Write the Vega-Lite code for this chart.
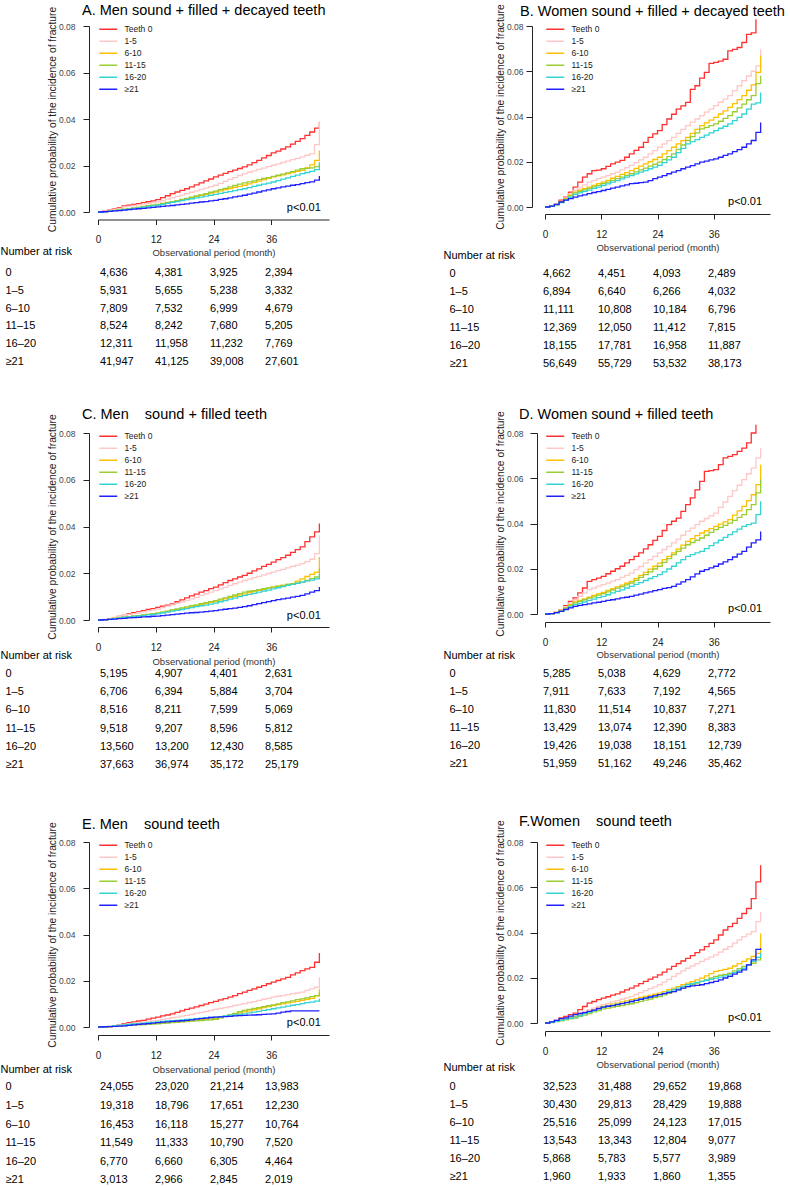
{
"$schema": "https://vega.github.io/schema/vega-lite/v6.json",
"background": "white",
"padding": {"left": 0, "top": 3, "right": 0, "bottom": 0},
"autosize": {"type": "pad"},
"config": {
  "font": "Liberation Sans",
  "view": {"stroke": null},
  "axis": {"grid": false, "domainColor": "#222", "tickColor": "#222", "titleFontWeight": "normal"},
  "title": {"anchor": "start", "frame": "group", "baseline": "alphabetic", "fontSize": 14.5, "fontWeight": "normal", "color": "black"},
  "legend": {"padding": 0, "symbolType": "M-1,0H5", "symbolSize": 36, "symbolStrokeWidth": 1.5, "labelFontSize": 8.5, "labelOffset": 18, "rowPadding": 3, "labelColor": "#222"}
},
"datasets": {
"A": [
{"m":0,"Teeth 0":0,"1-5":0,"6-10":0,"11-15":0,"16-20":0,"≥21":0},
{"m":1,"Teeth 0":0.0004,"1-5":0.0003,"6-10":0.0002,"11-15":0.0002,"16-20":0.0002,"≥21":0.0001},
{"m":2,"Teeth 0":0.0008,"1-5":0.0007,"6-10":0.0004,"11-15":0.0004,"16-20":0.0004,"≥21":0.0003},
{"m":3,"Teeth 0":0.0013,"1-5":0.0011,"6-10":0.0007,"11-15":0.0006,"16-20":0.0006,"≥21":0.0005},
{"m":4,"Teeth 0":0.0019,"1-5":0.0016,"6-10":0.0009,"11-15":0.0009,"16-20":0.0008,"≥21":0.0006},
{"m":5,"Teeth 0":0.0026,"1-5":0.0022,"6-10":0.0012,"11-15":0.0011,"16-20":0.0010,"≥21":0.0008},
{"m":6,"Teeth 0":0.0029,"1-5":0.0025,"6-10":0.0014,"11-15":0.0014,"16-20":0.0012,"≥21":0.0010},
{"m":7,"Teeth 0":0.0033,"1-5":0.0028,"6-10":0.0017,"11-15":0.0017,"16-20":0.0015,"≥21":0.0012},
{"m":8,"Teeth 0":0.0036,"1-5":0.0031,"6-10":0.0020,"11-15":0.0020,"16-20":0.0018,"≥21":0.0014},
{"m":9,"Teeth 0":0.0040,"1-5":0.0034,"6-10":0.0024,"11-15":0.0023,"16-20":0.0021,"≥21":0.0016},
{"m":10,"Teeth 0":0.0044,"1-5":0.0037,"6-10":0.0027,"11-15":0.0026,"16-20":0.0024,"≥21":0.0018},
{"m":11,"Teeth 0":0.0048,"1-5":0.0040,"6-10":0.0030,"11-15":0.0029,"16-20":0.0026,"≥21":0.0020},
{"m":12,"Teeth 0":0.0053,"1-5":0.0043,"6-10":0.0033,"11-15":0.0032,"16-20":0.0029,"≥21":0.0022},
{"m":13,"Teeth 0":0.0062,"1-5":0.0049,"6-10":0.0037,"11-15":0.0036,"16-20":0.0033,"≥21":0.0024},
{"m":14,"Teeth 0":0.0070,"1-5":0.0055,"6-10":0.0041,"11-15":0.0040,"16-20":0.0037,"≥21":0.0026},
{"m":15,"Teeth 0":0.0079,"1-5":0.0061,"6-10":0.0045,"11-15":0.0044,"16-20":0.0041,"≥21":0.0028},
{"m":16,"Teeth 0":0.0086,"1-5":0.0067,"6-10":0.0049,"11-15":0.0049,"16-20":0.0045,"≥21":0.0031},
{"m":17,"Teeth 0":0.0093,"1-5":0.0073,"6-10":0.0053,"11-15":0.0054,"16-20":0.0049,"≥21":0.0033},
{"m":18,"Teeth 0":0.0100,"1-5":0.0079,"6-10":0.0057,"11-15":0.0059,"16-20":0.0053,"≥21":0.0035},
{"m":19,"Teeth 0":0.0108,"1-5":0.0085,"6-10":0.0062,"11-15":0.0064,"16-20":0.0057,"≥21":0.0038},
{"m":20,"Teeth 0":0.0117,"1-5":0.0091,"6-10":0.0067,"11-15":0.0069,"16-20":0.0061,"≥21":0.0040},
{"m":21,"Teeth 0":0.0125,"1-5":0.0097,"6-10":0.0072,"11-15":0.0074,"16-20":0.0064,"≥21":0.0043},
{"m":22,"Teeth 0":0.0134,"1-5":0.0103,"6-10":0.0076,"11-15":0.0079,"16-20":0.0068,"≥21":0.0045},
{"m":23,"Teeth 0":0.0142,"1-5":0.0109,"6-10":0.0081,"11-15":0.0085,"16-20":0.0072,"≥21":0.0048},
{"m":24,"Teeth 0":0.0151,"1-5":0.0115,"6-10":0.0086,"11-15":0.0090,"16-20":0.0076,"≥21":0.0050},
{"m":25,"Teeth 0":0.0159,"1-5":0.0123,"6-10":0.0091,"11-15":0.0096,"16-20":0.0080,"≥21":0.0054},
{"m":26,"Teeth 0":0.0166,"1-5":0.0132,"6-10":0.0096,"11-15":0.0102,"16-20":0.0084,"≥21":0.0057},
{"m":27,"Teeth 0":0.0174,"1-5":0.0140,"6-10":0.0101,"11-15":0.0108,"16-20":0.0088,"≥21":0.0061},
{"m":28,"Teeth 0":0.0180,"1-5":0.0148,"6-10":0.0106,"11-15":0.0114,"16-20":0.0092,"≥21":0.0065},
{"m":29,"Teeth 0":0.0187,"1-5":0.0157,"6-10":0.0110,"11-15":0.0120,"16-20":0.0096,"≥21":0.0068},
{"m":30,"Teeth 0":0.0194,"1-5":0.0165,"6-10":0.0115,"11-15":0.0125,"16-20":0.0100,"≥21":0.0072},
{"m":31,"Teeth 0":0.0203,"1-5":0.0171,"6-10":0.0121,"11-15":0.0130,"16-20":0.0105,"≥21":0.0077},
{"m":32,"Teeth 0":0.0212,"1-5":0.0177,"6-10":0.0127,"11-15":0.0134,"16-20":0.0110,"≥21":0.0081},
{"m":33,"Teeth 0":0.0222,"1-5":0.0183,"6-10":0.0133,"11-15":0.0139,"16-20":0.0115,"≥21":0.0086},
{"m":34,"Teeth 0":0.0233,"1-5":0.0189,"6-10":0.0139,"11-15":0.0144,"16-20":0.0120,"≥21":0.0091},
{"m":35,"Teeth 0":0.0243,"1-5":0.0195,"6-10":0.0145,"11-15":0.0148,"16-20":0.0124,"≥21":0.0095},
{"m":36,"Teeth 0":0.0254,"1-5":0.0201,"6-10":0.0151,"11-15":0.0153,"16-20":0.0129,"≥21":0.0100},
{"m":37,"Teeth 0":0.0262,"1-5":0.0207,"6-10":0.0155,"11-15":0.0158,"16-20":0.0135,"≥21":0.0104},
{"m":38,"Teeth 0":0.0271,"1-5":0.0213,"6-10":0.0160,"11-15":0.0163,"16-20":0.0141,"≥21":0.0108},
{"m":39,"Teeth 0":0.0280,"1-5":0.0219,"6-10":0.0165,"11-15":0.0168,"16-20":0.0147,"≥21":0.0111},
{"m":40,"Teeth 0":0.0292,"1-5":0.0225,"6-10":0.0170,"11-15":0.0174,"16-20":0.0153,"≥21":0.0115},
{"m":41,"Teeth 0":0.0304,"1-5":0.0231,"6-10":0.0175,"11-15":0.0180,"16-20":0.0159,"≥21":0.0118},
{"m":42,"Teeth 0":0.0316,"1-5":0.0237,"6-10":0.0179,"11-15":0.0186,"16-20":0.0165,"≥21":0.0122},
{"m":43,"Teeth 0":0.0330,"1-5":0.0244,"6-10":0.0190,"11-15":0.0188,"16-20":0.0170,"≥21":0.0126},
{"m":44,"Teeth 0":0.0344,"1-5":0.0251,"6-10":0.0203,"11-15":0.0190,"16-20":0.0175,"≥21":0.0130},
{"m":45,"Teeth 0":0.0361,"1-5":0.0290,"6-10":0.0222,"11-15":0.0195,"16-20":0.0182,"≥21":0.0137},
{"m":46,"Teeth 0":0.0384,"1-5":0.0390,"6-10":0.0265,"11-15":0.0215,"16-20":0.0205,"≥21":0.0155}
],
"B": [
{"m":0,"Teeth 0":0,"1-5":0,"6-10":0,"11-15":0,"16-20":0,"≥21":0},
{"m":1,"Teeth 0":0.0004,"1-5":0.0004,"6-10":0.0004,"11-15":0.0004,"16-20":0.0003,"≥21":0.0004},
{"m":2,"Teeth 0":0.0012,"1-5":0.0012,"6-10":0.0011,"11-15":0.0010,"16-20":0.0009,"≥21":0.0012},
{"m":3,"Teeth 0":0.0030,"1-5":0.0025,"6-10":0.0023,"11-15":0.0021,"16-20":0.0019,"≥21":0.0022},
{"m":4,"Teeth 0":0.0044,"1-5":0.0040,"6-10":0.0037,"11-15":0.0034,"16-20":0.0031,"≥21":0.0030},
{"m":5,"Teeth 0":0.0066,"1-5":0.0058,"6-10":0.0052,"11-15":0.0048,"16-20":0.0044,"≥21":0.0037},
{"m":6,"Teeth 0":0.0088,"1-5":0.0073,"6-10":0.0066,"11-15":0.0062,"16-20":0.0056,"≥21":0.0044},
{"m":7,"Teeth 0":0.0110,"1-5":0.0086,"6-10":0.0074,"11-15":0.0069,"16-20":0.0062,"≥21":0.0049},
{"m":8,"Teeth 0":0.0132,"1-5":0.0098,"6-10":0.0081,"11-15":0.0076,"16-20":0.0069,"≥21":0.0054},
{"m":9,"Teeth 0":0.0147,"1-5":0.0110,"6-10":0.0088,"11-15":0.0082,"16-20":0.0075,"≥21":0.0059},
{"m":10,"Teeth 0":0.0161,"1-5":0.0117,"6-10":0.0095,"11-15":0.0089,"16-20":0.0082,"≥21":0.0064},
{"m":11,"Teeth 0":0.0163,"1-5":0.0125,"6-10":0.0103,"11-15":0.0096,"16-20":0.0088,"≥21":0.0068},
{"m":12,"Teeth 0":0.0169,"1-5":0.0132,"6-10":0.0110,"11-15":0.0103,"16-20":0.0095,"≥21":0.0073},
{"m":13,"Teeth 0":0.0180,"1-5":0.0139,"6-10":0.0118,"11-15":0.0110,"16-20":0.0102,"≥21":0.0078},
{"m":14,"Teeth 0":0.0191,"1-5":0.0147,"6-10":0.0127,"11-15":0.0118,"16-20":0.0110,"≥21":0.0083},
{"m":15,"Teeth 0":0.0198,"1-5":0.0154,"6-10":0.0135,"11-15":0.0125,"16-20":0.0117,"≥21":0.0088},
{"m":16,"Teeth 0":0.0206,"1-5":0.0164,"6-10":0.0144,"11-15":0.0132,"16-20":0.0124,"≥21":0.0093},
{"m":17,"Teeth 0":0.0220,"1-5":0.0174,"6-10":0.0152,"11-15":0.0140,"16-20":0.0132,"≥21":0.0098},
{"m":18,"Teeth 0":0.0235,"1-5":0.0184,"6-10":0.0161,"11-15":0.0147,"16-20":0.0139,"≥21":0.0103},
{"m":19,"Teeth 0":0.0250,"1-5":0.0196,"6-10":0.0171,"11-15":0.0155,"16-20":0.0146,"≥21":0.0105},
{"m":20,"Teeth 0":0.0264,"1-5":0.0208,"6-10":0.0181,"11-15":0.0164,"16-20":0.0154,"≥21":0.0108},
{"m":21,"Teeth 0":0.0286,"1-5":0.0220,"6-10":0.0191,"11-15":0.0172,"16-20":0.0161,"≥21":0.0110},
{"m":22,"Teeth 0":0.0308,"1-5":0.0235,"6-10":0.0200,"11-15":0.0181,"16-20":0.0169,"≥21":0.0117},
{"m":23,"Teeth 0":0.0323,"1-5":0.0249,"6-10":0.0210,"11-15":0.0189,"16-20":0.0176,"≥21":0.0125},
{"m":24,"Teeth 0":0.0338,"1-5":0.0264,"6-10":0.0220,"11-15":0.0198,"16-20":0.0184,"≥21":0.0132},
{"m":25,"Teeth 0":0.0364,"1-5":0.0279,"6-10":0.0235,"11-15":0.0210,"16-20":0.0196,"≥21":0.0139},
{"m":26,"Teeth 0":0.0389,"1-5":0.0293,"6-10":0.0249,"11-15":0.0223,"16-20":0.0208,"≥21":0.0147},
{"m":27,"Teeth 0":0.0410,"1-5":0.0308,"6-10":0.0264,"11-15":0.0235,"16-20":0.0220,"≥21":0.0154},
{"m":28,"Teeth 0":0.0433,"1-5":0.0325,"6-10":0.0279,"11-15":0.0255,"16-20":0.0240,"≥21":0.0161},
{"m":29,"Teeth 0":0.0447,"1-5":0.0343,"6-10":0.0293,"11-15":0.0274,"16-20":0.0259,"≥21":0.0169},
{"m":30,"Teeth 0":0.0462,"1-5":0.0360,"6-10":0.0308,"11-15":0.0294,"16-20":0.0279,"≥21":0.0176},
{"m":31,"Teeth 0":0.0520,"1-5":0.0375,"6-10":0.0325,"11-15":0.0311,"16-20":0.0289,"≥21":0.0183},
{"m":32,"Teeth 0":0.0536,"1-5":0.0389,"6-10":0.0343,"11-15":0.0328,"16-20":0.0298,"≥21":0.0191},
{"m":33,"Teeth 0":0.0570,"1-5":0.0404,"6-10":0.0360,"11-15":0.0345,"16-20":0.0308,"≥21":0.0198},
{"m":34,"Teeth 0":0.0595,"1-5":0.0419,"6-10":0.0372,"11-15":0.0352,"16-20":0.0318,"≥21":0.0203},
{"m":35,"Teeth 0":0.0635,"1-5":0.0433,"6-10":0.0384,"11-15":0.0360,"16-20":0.0328,"≥21":0.0208},
{"m":36,"Teeth 0":0.0639,"1-5":0.0448,"6-10":0.0396,"11-15":0.0367,"16-20":0.0338,"≥21":0.0213},
{"m":37,"Teeth 0":0.0645,"1-5":0.0463,"6-10":0.0411,"11-15":0.0379,"16-20":0.0348,"≥21":0.0220},
{"m":38,"Teeth 0":0.0653,"1-5":0.0477,"6-10":0.0425,"11-15":0.0392,"16-20":0.0357,"≥21":0.0228},
{"m":39,"Teeth 0":0.0690,"1-5":0.0492,"6-10":0.0440,"11-15":0.0404,"16-20":0.0367,"≥21":0.0235},
{"m":40,"Teeth 0":0.0697,"1-5":0.0514,"6-10":0.0457,"11-15":0.0421,"16-20":0.0382,"≥21":0.0245},
{"m":41,"Teeth 0":0.0705,"1-5":0.0536,"6-10":0.0475,"11-15":0.0438,"16-20":0.0396,"≥21":0.0254},
{"m":42,"Teeth 0":0.0727,"1-5":0.0558,"6-10":0.0492,"11-15":0.0455,"16-20":0.0411,"≥21":0.0264},
{"m":43,"Teeth 0":0.0763,"1-5":0.0579,"6-10":0.0516,"11-15":0.0474,"16-20":0.0433,"≥21":0.0279},
{"m":44,"Teeth 0":0.0770,"1-5":0.0600,"6-10":0.0540,"11-15":0.0492,"16-20":0.0455,"≥21":0.0294},
{"m":45,"Teeth 0":0.0830,"1-5":0.0624,"6-10":0.0595,"11-15":0.0545,"16-20":0.0460,"≥21":0.0330},
{"m":46,"Teeth 0":null,"1-5":0.0697,"6-10":0.0670,"11-15":0.0580,"16-20":0.0506,"≥21":0.0374}
],
"C": [
{"m":0,"Teeth 0":0,"1-5":0,"6-10":0,"11-15":0,"16-20":0,"≥21":0},
{"m":1,"Teeth 0":0.0002,"1-5":0.0003,"6-10":0.0002,"11-15":0.0002,"16-20":0.0002,"≥21":0.0001},
{"m":2,"Teeth 0":0.0005,"1-5":0.0007,"6-10":0.0005,"11-15":0.0004,"16-20":0.0004,"≥21":0.0003},
{"m":3,"Teeth 0":0.0009,"1-5":0.0011,"6-10":0.0007,"11-15":0.0007,"16-20":0.0006,"≥21":0.0004},
{"m":4,"Teeth 0":0.0015,"1-5":0.0015,"6-10":0.0009,"11-15":0.0009,"16-20":0.0009,"≥21":0.0006},
{"m":5,"Teeth 0":0.0020,"1-5":0.0019,"6-10":0.0012,"11-15":0.0012,"16-20":0.0011,"≥21":0.0007},
{"m":6,"Teeth 0":0.0026,"1-5":0.0023,"6-10":0.0014,"11-15":0.0014,"16-20":0.0013,"≥21":0.0009},
{"m":7,"Teeth 0":0.0031,"1-5":0.0027,"6-10":0.0016,"11-15":0.0017,"16-20":0.0015,"≥21":0.0010},
{"m":8,"Teeth 0":0.0035,"1-5":0.0031,"6-10":0.0019,"11-15":0.0019,"16-20":0.0017,"≥21":0.0011},
{"m":9,"Teeth 0":0.0040,"1-5":0.0035,"6-10":0.0021,"11-15":0.0022,"16-20":0.0019,"≥21":0.0013},
{"m":10,"Teeth 0":0.0045,"1-5":0.0039,"6-10":0.0024,"11-15":0.0024,"16-20":0.0022,"≥21":0.0014},
{"m":11,"Teeth 0":0.0049,"1-5":0.0043,"6-10":0.0026,"11-15":0.0027,"16-20":0.0024,"≥21":0.0016},
{"m":12,"Teeth 0":0.0054,"1-5":0.0047,"6-10":0.0029,"11-15":0.0029,"16-20":0.0026,"≥21":0.0017},
{"m":13,"Teeth 0":0.0059,"1-5":0.0053,"6-10":0.0033,"11-15":0.0034,"16-20":0.0030,"≥21":0.0019},
{"m":14,"Teeth 0":0.0064,"1-5":0.0059,"6-10":0.0037,"11-15":0.0038,"16-20":0.0034,"≥21":0.0021},
{"m":15,"Teeth 0":0.0069,"1-5":0.0065,"6-10":0.0041,"11-15":0.0043,"16-20":0.0038,"≥21":0.0023},
{"m":16,"Teeth 0":0.0078,"1-5":0.0071,"6-10":0.0044,"11-15":0.0047,"16-20":0.0041,"≥21":0.0025},
{"m":17,"Teeth 0":0.0086,"1-5":0.0077,"6-10":0.0048,"11-15":0.0052,"16-20":0.0045,"≥21":0.0027},
{"m":18,"Teeth 0":0.0095,"1-5":0.0083,"6-10":0.0052,"11-15":0.0056,"16-20":0.0049,"≥21":0.0029},
{"m":19,"Teeth 0":0.0103,"1-5":0.0090,"6-10":0.0056,"11-15":0.0061,"16-20":0.0053,"≥21":0.0031},
{"m":20,"Teeth 0":0.0111,"1-5":0.0097,"6-10":0.0061,"11-15":0.0065,"16-20":0.0057,"≥21":0.0032},
{"m":21,"Teeth 0":0.0119,"1-5":0.0105,"6-10":0.0066,"11-15":0.0070,"16-20":0.0061,"≥21":0.0034},
{"m":22,"Teeth 0":0.0126,"1-5":0.0112,"6-10":0.0070,"11-15":0.0074,"16-20":0.0064,"≥21":0.0036},
{"m":23,"Teeth 0":0.0134,"1-5":0.0119,"6-10":0.0075,"11-15":0.0079,"16-20":0.0068,"≥21":0.0038},
{"m":24,"Teeth 0":0.0141,"1-5":0.0126,"6-10":0.0079,"11-15":0.0083,"16-20":0.0072,"≥21":0.0040},
{"m":25,"Teeth 0":0.0150,"1-5":0.0133,"6-10":0.0085,"11-15":0.0089,"16-20":0.0078,"≥21":0.0043},
{"m":26,"Teeth 0":0.0160,"1-5":0.0140,"6-10":0.0090,"11-15":0.0095,"16-20":0.0083,"≥21":0.0046},
{"m":27,"Teeth 0":0.0169,"1-5":0.0148,"6-10":0.0096,"11-15":0.0101,"16-20":0.0089,"≥21":0.0049},
{"m":28,"Teeth 0":0.0176,"1-5":0.0155,"6-10":0.0101,"11-15":0.0107,"16-20":0.0094,"≥21":0.0051},
{"m":29,"Teeth 0":0.0184,"1-5":0.0162,"6-10":0.0107,"11-15":0.0113,"16-20":0.0100,"≥21":0.0054},
{"m":30,"Teeth 0":0.0191,"1-5":0.0169,"6-10":0.0112,"11-15":0.0119,"16-20":0.0105,"≥21":0.0057},
{"m":31,"Teeth 0":0.0200,"1-5":0.0175,"6-10":0.0117,"11-15":0.0123,"16-20":0.0110,"≥21":0.0061},
{"m":32,"Teeth 0":0.0210,"1-5":0.0181,"6-10":0.0122,"11-15":0.0126,"16-20":0.0114,"≥21":0.0066},
{"m":33,"Teeth 0":0.0219,"1-5":0.0187,"6-10":0.0127,"11-15":0.0130,"16-20":0.0119,"≥21":0.0070},
{"m":34,"Teeth 0":0.0229,"1-5":0.0193,"6-10":0.0131,"11-15":0.0134,"16-20":0.0124,"≥21":0.0074},
{"m":35,"Teeth 0":0.0238,"1-5":0.0199,"6-10":0.0136,"11-15":0.0137,"16-20":0.0128,"≥21":0.0079},
{"m":36,"Teeth 0":0.0248,"1-5":0.0205,"6-10":0.0141,"11-15":0.0141,"16-20":0.0133,"≥21":0.0083},
{"m":37,"Teeth 0":0.0258,"1-5":0.0211,"6-10":0.0145,"11-15":0.0145,"16-20":0.0138,"≥21":0.0087},
{"m":38,"Teeth 0":0.0267,"1-5":0.0217,"6-10":0.0148,"11-15":0.0148,"16-20":0.0143,"≥21":0.0090},
{"m":39,"Teeth 0":0.0277,"1-5":0.0223,"6-10":0.0152,"11-15":0.0152,"16-20":0.0148,"≥21":0.0094},
{"m":40,"Teeth 0":0.0289,"1-5":0.0229,"6-10":0.0155,"11-15":0.0155,"16-20":0.0152,"≥21":0.0098},
{"m":41,"Teeth 0":0.0301,"1-5":0.0235,"6-10":0.0166,"11-15":0.0159,"16-20":0.0157,"≥21":0.0101},
{"m":42,"Teeth 0":0.0313,"1-5":0.0241,"6-10":0.0176,"11-15":0.0162,"16-20":0.0162,"≥21":0.0105},
{"m":43,"Teeth 0":0.0335,"1-5":0.0250,"6-10":0.0186,"11-15":0.0169,"16-20":0.0167,"≥21":0.0112},
{"m":44,"Teeth 0":0.0356,"1-5":0.0260,"6-10":0.0195,"11-15":0.0177,"16-20":0.0171,"≥21":0.0119},
{"m":45,"Teeth 0":0.0377,"1-5":0.0284,"6-10":0.0205,"11-15":0.0184,"16-20":0.0176,"≥21":0.0126},
{"m":46,"Teeth 0":0.0413,"1-5":0.0363,"6-10":0.0270,"11-15":0.0220,"16-20":0.0190,"≥21":0.0141}
],
"D": [
{"m":0,"Teeth 0":0,"1-5":0,"6-10":0,"11-15":0,"16-20":0,"≥21":0},
{"m":1,"Teeth 0":0.0002,"1-5":0.0002,"6-10":0.0002,"11-15":0.0002,"16-20":0.0002,"≥21":0.0002},
{"m":2,"Teeth 0":0.0007,"1-5":0.0008,"6-10":0.0007,"11-15":0.0006,"16-20":0.0005,"≥21":0.0006},
{"m":3,"Teeth 0":0.0019,"1-5":0.0018,"6-10":0.0016,"11-15":0.0015,"16-20":0.0012,"≥21":0.0012},
{"m":4,"Teeth 0":0.0037,"1-5":0.0033,"6-10":0.0028,"11-15":0.0026,"16-20":0.0021,"≥21":0.0020},
{"m":5,"Teeth 0":0.0056,"1-5":0.0048,"6-10":0.0041,"11-15":0.0038,"16-20":0.0031,"≥21":0.0027},
{"m":6,"Teeth 0":0.0071,"1-5":0.0063,"6-10":0.0053,"11-15":0.0049,"16-20":0.0041,"≥21":0.0034},
{"m":7,"Teeth 0":0.0093,"1-5":0.0078,"6-10":0.0060,"11-15":0.0056,"16-20":0.0047,"≥21":0.0038},
{"m":8,"Teeth 0":0.0115,"1-5":0.0093,"6-10":0.0067,"11-15":0.0063,"16-20":0.0053,"≥21":0.0041},
{"m":9,"Teeth 0":0.0144,"1-5":0.0108,"6-10":0.0074,"11-15":0.0070,"16-20":0.0060,"≥21":0.0045},
{"m":10,"Teeth 0":0.0152,"1-5":0.0115,"6-10":0.0082,"11-15":0.0076,"16-20":0.0066,"≥21":0.0049},
{"m":11,"Teeth 0":0.0159,"1-5":0.0123,"6-10":0.0089,"11-15":0.0083,"16-20":0.0072,"≥21":0.0052},
{"m":12,"Teeth 0":0.0166,"1-5":0.0130,"6-10":0.0096,"11-15":0.0090,"16-20":0.0078,"≥21":0.0056},
{"m":13,"Teeth 0":0.0178,"1-5":0.0137,"6-10":0.0104,"11-15":0.0098,"16-20":0.0085,"≥21":0.0060},
{"m":14,"Teeth 0":0.0189,"1-5":0.0145,"6-10":0.0112,"11-15":0.0106,"16-20":0.0093,"≥21":0.0063},
{"m":15,"Teeth 0":0.0200,"1-5":0.0152,"6-10":0.0120,"11-15":0.0114,"16-20":0.0100,"≥21":0.0067},
{"m":16,"Teeth 0":0.0211,"1-5":0.0162,"6-10":0.0128,"11-15":0.0121,"16-20":0.0107,"≥21":0.0071},
{"m":17,"Teeth 0":0.0226,"1-5":0.0171,"6-10":0.0136,"11-15":0.0129,"16-20":0.0115,"≥21":0.0074},
{"m":18,"Teeth 0":0.0240,"1-5":0.0181,"6-10":0.0144,"11-15":0.0137,"16-20":0.0122,"≥21":0.0078},
{"m":19,"Teeth 0":0.0255,"1-5":0.0196,"6-10":0.0157,"11-15":0.0149,"16-20":0.0131,"≥21":0.0083},
{"m":20,"Teeth 0":0.0270,"1-5":0.0210,"6-10":0.0171,"11-15":0.0162,"16-20":0.0139,"≥21":0.0088},
{"m":21,"Teeth 0":0.0288,"1-5":0.0225,"6-10":0.0184,"11-15":0.0174,"16-20":0.0148,"≥21":0.0093},
{"m":22,"Teeth 0":0.0306,"1-5":0.0240,"6-10":0.0198,"11-15":0.0186,"16-20":0.0157,"≥21":0.0098},
{"m":23,"Teeth 0":0.0325,"1-5":0.0255,"6-10":0.0211,"11-15":0.0199,"16-20":0.0165,"≥21":0.0103},
{"m":24,"Teeth 0":0.0343,"1-5":0.0270,"6-10":0.0225,"11-15":0.0211,"16-20":0.0174,"≥21":0.0108},
{"m":25,"Teeth 0":0.0369,"1-5":0.0285,"6-10":0.0240,"11-15":0.0228,"16-20":0.0186,"≥21":0.0113},
{"m":26,"Teeth 0":0.0395,"1-5":0.0299,"6-10":0.0255,"11-15":0.0245,"16-20":0.0199,"≥21":0.0117},
{"m":27,"Teeth 0":0.0410,"1-5":0.0314,"6-10":0.0270,"11-15":0.0262,"16-20":0.0211,"≥21":0.0122},
{"m":28,"Teeth 0":0.0424,"1-5":0.0331,"6-10":0.0287,"11-15":0.0277,"16-20":0.0226,"≥21":0.0132},
{"m":29,"Teeth 0":0.0454,"1-5":0.0348,"6-10":0.0304,"11-15":0.0291,"16-20":0.0240,"≥21":0.0142},
{"m":30,"Teeth 0":0.0483,"1-5":0.0365,"6-10":0.0321,"11-15":0.0306,"16-20":0.0255,"≥21":0.0152},
{"m":31,"Teeth 0":0.0513,"1-5":0.0380,"6-10":0.0333,"11-15":0.0316,"16-20":0.0262,"≥21":0.0164},
{"m":32,"Teeth 0":0.0549,"1-5":0.0395,"6-10":0.0346,"11-15":0.0326,"16-20":0.0270,"≥21":0.0177},
{"m":33,"Teeth 0":0.0586,"1-5":0.0410,"6-10":0.0358,"11-15":0.0336,"16-20":0.0277,"≥21":0.0189},
{"m":34,"Teeth 0":0.0630,"1-5":0.0422,"6-10":0.0368,"11-15":0.0348,"16-20":0.0289,"≥21":0.0196},
{"m":35,"Teeth 0":0.0634,"1-5":0.0434,"6-10":0.0377,"11-15":0.0361,"16-20":0.0302,"≥21":0.0204},
{"m":36,"Teeth 0":0.0638,"1-5":0.0446,"6-10":0.0387,"11-15":0.0373,"16-20":0.0314,"≥21":0.0211},
{"m":37,"Teeth 0":0.0660,"1-5":0.0471,"6-10":0.0397,"11-15":0.0383,"16-20":0.0326,"≥21":0.0221},
{"m":38,"Teeth 0":0.0690,"1-5":0.0495,"6-10":0.0407,"11-15":0.0392,"16-20":0.0339,"≥21":0.0230},
{"m":39,"Teeth 0":0.0697,"1-5":0.0520,"6-10":0.0417,"11-15":0.0402,"16-20":0.0351,"≥21":0.0240},
{"m":40,"Teeth 0":0.0704,"1-5":0.0545,"6-10":0.0437,"11-15":0.0414,"16-20":0.0363,"≥21":0.0252},
{"m":41,"Teeth 0":0.0719,"1-5":0.0569,"6-10":0.0456,"11-15":0.0427,"16-20":0.0375,"≥21":0.0265},
{"m":42,"Teeth 0":0.0733,"1-5":0.0594,"6-10":0.0476,"11-15":0.0439,"16-20":0.0387,"≥21":0.0277},
{"m":43,"Teeth 0":0.0756,"1-5":0.0620,"6-10":0.0501,"11-15":0.0461,"16-20":0.0395,"≥21":0.0296},
{"m":44,"Teeth 0":0.0800,"1-5":0.0645,"6-10":0.0527,"11-15":0.0483,"16-20":0.0402,"≥21":0.0314},
{"m":45,"Teeth 0":0.0837,"1-5":0.0690,"6-10":0.0572,"11-15":0.0535,"16-20":0.0439,"≥21":0.0328},
{"m":46,"Teeth 0":null,"1-5":0.0733,"6-10":0.0660,"11-15":0.0594,"16-20":0.0498,"≥21":0.0365}
],
"E": [
{"m":0,"Teeth 0":0,"1-5":0,"6-10":0,"11-15":0,"16-20":0,"≥21":0},
{"m":1,"Teeth 0":0.0001,"1-5":0.0001,"6-10":0.0001,"11-15":0.0001,"16-20":0.0001,"≥21":0.0001},
{"m":2,"Teeth 0":0.0002,"1-5":0.0003,"6-10":0.0002,"11-15":0.0002,"16-20":0.0003,"≥21":0.0002},
{"m":3,"Teeth 0":0.0004,"1-5":0.0006,"6-10":0.0004,"11-15":0.0003,"16-20":0.0005,"≥21":0.0003},
{"m":4,"Teeth 0":0.0009,"1-5":0.0009,"6-10":0.0005,"11-15":0.0004,"16-20":0.0007,"≥21":0.0004},
{"m":5,"Teeth 0":0.0014,"1-5":0.0011,"6-10":0.0007,"11-15":0.0005,"16-20":0.0009,"≥21":0.0005},
{"m":6,"Teeth 0":0.0019,"1-5":0.0014,"6-10":0.0009,"11-15":0.0007,"16-20":0.0011,"≥21":0.0007},
{"m":7,"Teeth 0":0.0022,"1-5":0.0017,"6-10":0.0011,"11-15":0.0008,"16-20":0.0013,"≥21":0.0009},
{"m":8,"Teeth 0":0.0026,"1-5":0.0019,"6-10":0.0012,"11-15":0.0009,"16-20":0.0015,"≥21":0.0011},
{"m":9,"Teeth 0":0.0029,"1-5":0.0022,"6-10":0.0014,"11-15":0.0010,"16-20":0.0017,"≥21":0.0013},
{"m":10,"Teeth 0":0.0034,"1-5":0.0024,"6-10":0.0016,"11-15":0.0012,"16-20":0.0019,"≥21":0.0015},
{"m":11,"Teeth 0":0.0038,"1-5":0.0027,"6-10":0.0017,"11-15":0.0013,"16-20":0.0020,"≥21":0.0017},
{"m":12,"Teeth 0":0.0043,"1-5":0.0029,"6-10":0.0019,"11-15":0.0014,"16-20":0.0022,"≥21":0.0019},
{"m":13,"Teeth 0":0.0048,"1-5":0.0033,"6-10":0.0020,"11-15":0.0016,"16-20":0.0024,"≥21":0.0021},
{"m":14,"Teeth 0":0.0052,"1-5":0.0036,"6-10":0.0022,"11-15":0.0017,"16-20":0.0026,"≥21":0.0022},
{"m":15,"Teeth 0":0.0057,"1-5":0.0040,"6-10":0.0023,"11-15":0.0019,"16-20":0.0027,"≥21":0.0024},
{"m":16,"Teeth 0":0.0063,"1-5":0.0043,"6-10":0.0024,"11-15":0.0020,"16-20":0.0029,"≥21":0.0026},
{"m":17,"Teeth 0":0.0070,"1-5":0.0047,"6-10":0.0026,"11-15":0.0022,"16-20":0.0031,"≥21":0.0027},
{"m":18,"Teeth 0":0.0076,"1-5":0.0050,"6-10":0.0027,"11-15":0.0023,"16-20":0.0033,"≥21":0.0029},
{"m":19,"Teeth 0":0.0082,"1-5":0.0054,"6-10":0.0029,"11-15":0.0025,"16-20":0.0034,"≥21":0.0031},
{"m":20,"Teeth 0":0.0087,"1-5":0.0059,"6-10":0.0030,"11-15":0.0027,"16-20":0.0036,"≥21":0.0034},
{"m":21,"Teeth 0":0.0093,"1-5":0.0063,"6-10":0.0032,"11-15":0.0028,"16-20":0.0038,"≥21":0.0036},
{"m":22,"Teeth 0":0.0099,"1-5":0.0067,"6-10":0.0033,"11-15":0.0030,"16-20":0.0040,"≥21":0.0038},
{"m":23,"Teeth 0":0.0105,"1-5":0.0072,"6-10":0.0035,"11-15":0.0031,"16-20":0.0041,"≥21":0.0041},
{"m":24,"Teeth 0":0.0111,"1-5":0.0076,"6-10":0.0036,"11-15":0.0033,"16-20":0.0043,"≥21":0.0043},
{"m":25,"Teeth 0":0.0117,"1-5":0.0080,"6-10":0.0041,"11-15":0.0040,"16-20":0.0045,"≥21":0.0044},
{"m":26,"Teeth 0":0.0123,"1-5":0.0084,"6-10":0.0046,"11-15":0.0046,"16-20":0.0048,"≥21":0.0045},
{"m":27,"Teeth 0":0.0129,"1-5":0.0088,"6-10":0.0050,"11-15":0.0053,"16-20":0.0050,"≥21":0.0046},
{"m":28,"Teeth 0":0.0136,"1-5":0.0093,"6-10":0.0055,"11-15":0.0059,"16-20":0.0052,"≥21":0.0048},
{"m":29,"Teeth 0":0.0144,"1-5":0.0097,"6-10":0.0060,"11-15":0.0066,"16-20":0.0055,"≥21":0.0049},
{"m":30,"Teeth 0":0.0151,"1-5":0.0101,"6-10":0.0065,"11-15":0.0072,"16-20":0.0057,"≥21":0.0050},
{"m":31,"Teeth 0":0.0158,"1-5":0.0106,"6-10":0.0070,"11-15":0.0076,"16-20":0.0061,"≥21":0.0051},
{"m":32,"Teeth 0":0.0165,"1-5":0.0110,"6-10":0.0074,"11-15":0.0080,"16-20":0.0064,"≥21":0.0052},
{"m":33,"Teeth 0":0.0172,"1-5":0.0115,"6-10":0.0079,"11-15":0.0084,"16-20":0.0068,"≥21":0.0053},
{"m":34,"Teeth 0":0.0179,"1-5":0.0120,"6-10":0.0084,"11-15":0.0088,"16-20":0.0072,"≥21":0.0055},
{"m":35,"Teeth 0":0.0187,"1-5":0.0124,"6-10":0.0088,"11-15":0.0092,"16-20":0.0075,"≥21":0.0056},
{"m":36,"Teeth 0":0.0194,"1-5":0.0129,"6-10":0.0093,"11-15":0.0096,"16-20":0.0079,"≥21":0.0057},
{"m":37,"Teeth 0":0.0201,"1-5":0.0133,"6-10":0.0097,"11-15":0.0100,"16-20":0.0083,"≥21":0.0060},
{"m":38,"Teeth 0":0.0208,"1-5":0.0136,"6-10":0.0100,"11-15":0.0105,"16-20":0.0086,"≥21":0.0064},
{"m":39,"Teeth 0":0.0215,"1-5":0.0140,"6-10":0.0104,"11-15":0.0109,"16-20":0.0090,"≥21":0.0067},
{"m":40,"Teeth 0":0.0225,"1-5":0.0144,"6-10":0.0108,"11-15":0.0113,"16-20":0.0094,"≥21":0.0070},
{"m":41,"Teeth 0":0.0234,"1-5":0.0147,"6-10":0.0111,"11-15":0.0118,"16-20":0.0097,"≥21":0.0070},
{"m":42,"Teeth 0":0.0244,"1-5":0.0151,"6-10":0.0115,"11-15":0.0122,"16-20":0.0101,"≥21":0.0070},
{"m":43,"Teeth 0":0.0251,"1-5":0.0158,"6-10":0.0120,"11-15":0.0126,"16-20":0.0105,"≥21":0.0070},
{"m":44,"Teeth 0":0.0258,"1-5":0.0165,"6-10":0.0124,"11-15":0.0131,"16-20":0.0108,"≥21":0.0070},
{"m":45,"Teeth 0":0.0280,"1-5":0.0172,"6-10":0.0135,"11-15":0.0136,"16-20":0.0112,"≥21":0.0070},
{"m":46,"Teeth 0":0.0320,"1-5":0.0215,"6-10":0.0165,"11-15":0.0150,"16-20":0.0122,"≥21":0.0070}
],
"F": [
{"m":0,"Teeth 0":0,"1-5":0,"6-10":0,"11-15":0,"16-20":0,"≥21":0},
{"m":1,"Teeth 0":0.0005,"1-5":0.0004,"6-10":0.0003,"11-15":0.0002,"16-20":0.0003,"≥21":0.0005},
{"m":2,"Teeth 0":0.0012,"1-5":0.0010,"6-10":0.0008,"11-15":0.0006,"16-20":0.0007,"≥21":0.0012},
{"m":3,"Teeth 0":0.0022,"1-5":0.0017,"6-10":0.0013,"11-15":0.0010,"16-20":0.0012,"≥21":0.0019},
{"m":4,"Teeth 0":0.0029,"1-5":0.0024,"6-10":0.0019,"11-15":0.0014,"16-20":0.0017,"≥21":0.0023},
{"m":5,"Teeth 0":0.0037,"1-5":0.0030,"6-10":0.0024,"11-15":0.0018,"16-20":0.0021,"≥21":0.0030},
{"m":6,"Teeth 0":0.0044,"1-5":0.0037,"6-10":0.0029,"11-15":0.0022,"16-20":0.0026,"≥21":0.0037},
{"m":7,"Teeth 0":0.0059,"1-5":0.0044,"6-10":0.0036,"11-15":0.0029,"16-20":0.0033,"≥21":0.0042},
{"m":8,"Teeth 0":0.0073,"1-5":0.0052,"6-10":0.0044,"11-15":0.0035,"16-20":0.0041,"≥21":0.0046},
{"m":9,"Teeth 0":0.0088,"1-5":0.0059,"6-10":0.0051,"11-15":0.0042,"16-20":0.0048,"≥21":0.0051},
{"m":10,"Teeth 0":0.0095,"1-5":0.0066,"6-10":0.0058,"11-15":0.0049,"16-20":0.0055,"≥21":0.0057},
{"m":11,"Teeth 0":0.0103,"1-5":0.0074,"6-10":0.0066,"11-15":0.0055,"16-20":0.0063,"≥21":0.0064},
{"m":12,"Teeth 0":0.0110,"1-5":0.0081,"6-10":0.0073,"11-15":0.0062,"16-20":0.0070,"≥21":0.0070},
{"m":13,"Teeth 0":0.0116,"1-5":0.0087,"6-10":0.0078,"11-15":0.0066,"16-20":0.0074,"≥21":0.0074},
{"m":14,"Teeth 0":0.0123,"1-5":0.0093,"6-10":0.0083,"11-15":0.0070,"16-20":0.0078,"≥21":0.0077},
{"m":15,"Teeth 0":0.0129,"1-5":0.0099,"6-10":0.0088,"11-15":0.0074,"16-20":0.0083,"≥21":0.0081},
{"m":16,"Teeth 0":0.0137,"1-5":0.0105,"6-10":0.0093,"11-15":0.0077,"16-20":0.0087,"≥21":0.0086},
{"m":17,"Teeth 0":0.0146,"1-5":0.0111,"6-10":0.0098,"11-15":0.0081,"16-20":0.0091,"≥21":0.0090},
{"m":18,"Teeth 0":0.0154,"1-5":0.0117,"6-10":0.0103,"11-15":0.0085,"16-20":0.0095,"≥21":0.0095},
{"m":19,"Teeth 0":0.0164,"1-5":0.0126,"6-10":0.0108,"11-15":0.0090,"16-20":0.0100,"≥21":0.0100},
{"m":20,"Teeth 0":0.0174,"1-5":0.0134,"6-10":0.0113,"11-15":0.0096,"16-20":0.0105,"≥21":0.0105},
{"m":21,"Teeth 0":0.0184,"1-5":0.0143,"6-10":0.0118,"11-15":0.0101,"16-20":0.0110,"≥21":0.0110},
{"m":22,"Teeth 0":0.0194,"1-5":0.0152,"6-10":0.0122,"11-15":0.0106,"16-20":0.0115,"≥21":0.0115},
{"m":23,"Teeth 0":0.0203,"1-5":0.0160,"6-10":0.0127,"11-15":0.0112,"16-20":0.0120,"≥21":0.0120},
{"m":24,"Teeth 0":0.0213,"1-5":0.0169,"6-10":0.0132,"11-15":0.0117,"16-20":0.0125,"≥21":0.0125},
{"m":25,"Teeth 0":0.0225,"1-5":0.0181,"6-10":0.0139,"11-15":0.0124,"16-20":0.0132,"≥21":0.0130},
{"m":26,"Teeth 0":0.0238,"1-5":0.0193,"6-10":0.0147,"11-15":0.0132,"16-20":0.0140,"≥21":0.0134},
{"m":27,"Teeth 0":0.0250,"1-5":0.0206,"6-10":0.0154,"11-15":0.0139,"16-20":0.0147,"≥21":0.0139},
{"m":28,"Teeth 0":0.0262,"1-5":0.0218,"6-10":0.0161,"11-15":0.0146,"16-20":0.0154,"≥21":0.0146},
{"m":29,"Teeth 0":0.0274,"1-5":0.0230,"6-10":0.0169,"11-15":0.0154,"16-20":0.0162,"≥21":0.0154},
{"m":30,"Teeth 0":0.0286,"1-5":0.0242,"6-10":0.0176,"11-15":0.0161,"16-20":0.0169,"≥21":0.0161},
{"m":31,"Teeth 0":0.0298,"1-5":0.0252,"6-10":0.0183,"11-15":0.0169,"16-20":0.0174,"≥21":0.0164},
{"m":32,"Teeth 0":0.0311,"1-5":0.0262,"6-10":0.0191,"11-15":0.0176,"16-20":0.0179,"≥21":0.0166},
{"m":33,"Teeth 0":0.0323,"1-5":0.0272,"6-10":0.0198,"11-15":0.0184,"16-20":0.0184,"≥21":0.0169},
{"m":34,"Teeth 0":0.0338,"1-5":0.0282,"6-10":0.0208,"11-15":0.0191,"16-20":0.0189,"≥21":0.0174},
{"m":35,"Teeth 0":0.0352,"1-5":0.0291,"6-10":0.0218,"11-15":0.0199,"16-20":0.0193,"≥21":0.0179},
{"m":36,"Teeth 0":0.0367,"1-5":0.0301,"6-10":0.0228,"11-15":0.0206,"16-20":0.0198,"≥21":0.0184},
{"m":37,"Teeth 0":0.0389,"1-5":0.0313,"6-10":0.0233,"11-15":0.0211,"16-20":0.0203,"≥21":0.0191},
{"m":38,"Teeth 0":0.0411,"1-5":0.0326,"6-10":0.0237,"11-15":0.0215,"16-20":0.0208,"≥21":0.0199},
{"m":39,"Teeth 0":0.0426,"1-5":0.0338,"6-10":0.0242,"11-15":0.0220,"16-20":0.0213,"≥21":0.0206},
{"m":40,"Teeth 0":0.0440,"1-5":0.0353,"6-10":0.0252,"11-15":0.0230,"16-20":0.0223,"≥21":0.0216},
{"m":41,"Teeth 0":0.0462,"1-5":0.0367,"6-10":0.0262,"11-15":0.0240,"16-20":0.0232,"≥21":0.0225},
{"m":42,"Teeth 0":0.0484,"1-5":0.0382,"6-10":0.0272,"11-15":0.0250,"16-20":0.0242,"≥21":0.0235},
{"m":43,"Teeth 0":0.0506,"1-5":0.0393,"6-10":0.0283,"11-15":0.0257,"16-20":0.0257,"≥21":0.0257},
{"m":44,"Teeth 0":0.0550,"1-5":0.0404,"6-10":0.0294,"11-15":0.0264,"16-20":0.0272,"≥21":0.0279},
{"m":45,"Teeth 0":0.0624,"1-5":0.0448,"6-10":0.0308,"11-15":0.0279,"16-20":0.0290,"≥21":0.0325},
{"m":46,"Teeth 0":0.0697,"1-5":0.0492,"6-10":0.0396,"11-15":0.0294,"16-20":0.0310,"≥21":0.0330}
],
"rA": [
{"g":"0","m":0,"n":4636},{"g":"0","m":12,"n":4381},{"g":"0","m":24,"n":3925},{"g":"0","m":36,"n":2394},
{"g":"1–5","m":0,"n":5931},{"g":"1–5","m":12,"n":5655},{"g":"1–5","m":24,"n":5238},{"g":"1–5","m":36,"n":3332},
{"g":"6–10","m":0,"n":7809},{"g":"6–10","m":12,"n":7532},{"g":"6–10","m":24,"n":6999},{"g":"6–10","m":36,"n":4679},
{"g":"11–15","m":0,"n":8524},{"g":"11–15","m":12,"n":8242},{"g":"11–15","m":24,"n":7680},{"g":"11–15","m":36,"n":5205},
{"g":"16–20","m":0,"n":12311},{"g":"16–20","m":12,"n":11958},{"g":"16–20","m":24,"n":11232},{"g":"16–20","m":36,"n":7769},
{"g":"≥21","m":0,"n":41947},{"g":"≥21","m":12,"n":41125},{"g":"≥21","m":24,"n":39008},{"g":"≥21","m":36,"n":27601}
],
"rB": [
{"g":"0","m":0,"n":4662},{"g":"0","m":12,"n":4451},{"g":"0","m":24,"n":4093},{"g":"0","m":36,"n":2489},
{"g":"1–5","m":0,"n":6894},{"g":"1–5","m":12,"n":6640},{"g":"1–5","m":24,"n":6266},{"g":"1–5","m":36,"n":4032},
{"g":"6–10","m":0,"n":11111},{"g":"6–10","m":12,"n":10808},{"g":"6–10","m":24,"n":10184},{"g":"6–10","m":36,"n":6796},
{"g":"11–15","m":0,"n":12369},{"g":"11–15","m":12,"n":12050},{"g":"11–15","m":24,"n":11412},{"g":"11–15","m":36,"n":7815},
{"g":"16–20","m":0,"n":18155},{"g":"16–20","m":12,"n":17781},{"g":"16–20","m":24,"n":16958},{"g":"16–20","m":36,"n":11887},
{"g":"≥21","m":0,"n":56649},{"g":"≥21","m":12,"n":55729},{"g":"≥21","m":24,"n":53532},{"g":"≥21","m":36,"n":38173}
],
"rC": [
{"g":"0","m":0,"n":5195},{"g":"0","m":12,"n":4907},{"g":"0","m":24,"n":4401},{"g":"0","m":36,"n":2631},
{"g":"1–5","m":0,"n":6706},{"g":"1–5","m":12,"n":6394},{"g":"1–5","m":24,"n":5884},{"g":"1–5","m":36,"n":3704},
{"g":"6–10","m":0,"n":8516},{"g":"6–10","m":12,"n":8211},{"g":"6–10","m":24,"n":7599},{"g":"6–10","m":36,"n":5069},
{"g":"11–15","m":0,"n":9518},{"g":"11–15","m":12,"n":9207},{"g":"11–15","m":24,"n":8596},{"g":"11–15","m":36,"n":5812},
{"g":"16–20","m":0,"n":13560},{"g":"16–20","m":12,"n":13200},{"g":"16–20","m":24,"n":12430},{"g":"16–20","m":36,"n":8585},
{"g":"≥21","m":0,"n":37663},{"g":"≥21","m":12,"n":36974},{"g":"≥21","m":24,"n":35172},{"g":"≥21","m":36,"n":25179}
],
"rD": [
{"g":"0","m":0,"n":5285},{"g":"0","m":12,"n":5038},{"g":"0","m":24,"n":4629},{"g":"0","m":36,"n":2772},
{"g":"1–5","m":0,"n":7911},{"g":"1–5","m":12,"n":7633},{"g":"1–5","m":24,"n":7192},{"g":"1–5","m":36,"n":4565},
{"g":"6–10","m":0,"n":11830},{"g":"6–10","m":12,"n":11514},{"g":"6–10","m":24,"n":10837},{"g":"6–10","m":36,"n":7271},
{"g":"11–15","m":0,"n":13429},{"g":"11–15","m":12,"n":13074},{"g":"11–15","m":24,"n":12390},{"g":"11–15","m":36,"n":8383},
{"g":"16–20","m":0,"n":19426},{"g":"16–20","m":12,"n":19038},{"g":"16–20","m":24,"n":18151},{"g":"16–20","m":36,"n":12739},
{"g":"≥21","m":0,"n":51959},{"g":"≥21","m":12,"n":51162},{"g":"≥21","m":24,"n":49246},{"g":"≥21","m":36,"n":35462}
],
"rE": [
{"g":"0","m":0,"n":24055},{"g":"0","m":12,"n":23020},{"g":"0","m":24,"n":21214},{"g":"0","m":36,"n":13983},
{"g":"1–5","m":0,"n":19318},{"g":"1–5","m":12,"n":18796},{"g":"1–5","m":24,"n":17651},{"g":"1–5","m":36,"n":12230},
{"g":"6–10","m":0,"n":16453},{"g":"6–10","m":12,"n":16118},{"g":"6–10","m":24,"n":15277},{"g":"6–10","m":36,"n":10764},
{"g":"11–15","m":0,"n":11549},{"g":"11–15","m":12,"n":11333},{"g":"11–15","m":24,"n":10790},{"g":"11–15","m":36,"n":7520},
{"g":"16–20","m":0,"n":6770},{"g":"16–20","m":12,"n":6660},{"g":"16–20","m":24,"n":6305},{"g":"16–20","m":36,"n":4464},
{"g":"≥21","m":0,"n":3013},{"g":"≥21","m":12,"n":2966},{"g":"≥21","m":24,"n":2845},{"g":"≥21","m":36,"n":2019}
],
"rF": [
{"g":"0","m":0,"n":32523},{"g":"0","m":12,"n":31488},{"g":"0","m":24,"n":29652},{"g":"0","m":36,"n":19868},
{"g":"1–5","m":0,"n":30430},{"g":"1–5","m":12,"n":29813},{"g":"1–5","m":24,"n":28429},{"g":"1–5","m":36,"n":19888},
{"g":"6–10","m":0,"n":25516},{"g":"6–10","m":12,"n":25099},{"g":"6–10","m":24,"n":24123},{"g":"6–10","m":36,"n":17015},
{"g":"11–15","m":0,"n":13543},{"g":"11–15","m":12,"n":13343},{"g":"11–15","m":24,"n":12804},{"g":"11–15","m":36,"n":9077},
{"g":"16–20","m":0,"n":5868},{"g":"16–20","m":12,"n":5783},{"g":"16–20","m":24,"n":5577},{"g":"16–20","m":36,"n":3989},
{"g":"≥21","m":0,"n":1960},{"g":"≥21","m":12,"n":1933},{"g":"≥21","m":24,"n":1860},{"g":"≥21","m":36,"n":1355}
]
},
"spacing": 34,
"resolve": {"scale": {"color": "independent"}, "legend": {"color": "independent"}},
"vconcat": [
{"hconcat": [
 {"vconcat": [
  {"width": 231, "height": 186,
   "title": {"text": "A. Men sound + filled + decayed teeth", "dx": -16, "offset": -12.4},
   "layer": [
    {"data": {"name": "A"},
     "transform": [{"fold": ["Teeth 0","1-5","6-10","11-15","16-20","≥21"], "as": ["group","v"]}],
     "mark": {"type": "line", "interpolate": "step-after", "strokeWidth": 1.3, "clip": false},
     "encoding": {
      "x": {"field": "m", "type": "quantitative", "scale": {"domain": [0,48], "nice": false, "zero": false}, "axis": {"values": [0,12,24,36], "offset": 7.5, "tickSize": 5, "labelPadding": 10, "labelFontSize": 10, "labelFlush": false, "labelColor": "#222", "title": "Observational period (month)", "titleFontSize": 9.5, "titleColor": "#333", "titlePadding": 3}},
      "y": {"field": "v", "type": "quantitative", "scale": {"domain": [0,0.08], "nice": false, "zero": false}, "axis": {"values": [0,0.02,0.04,0.06,0.08], "format": ".2f", "offset": 9, "tickSize": 6, "labelPadding": 8, "labelFontSize": 8.5, "labelColor": "#444", "title": "Cumulative probability of the incidence of fracture", "titleFontSize": 10.3, "titleColor": "#222", "titlePadding": 1}},
      "color": {"field": "group", "type": "nominal", "sort": null, "scale": {"domain": ["Teeth 0","1-5","6-10","11-15","16-20","≥21"], "range": ["#FF3030","#FFC8C8","#FFC000","#9ACD32","#33D3D3","#2020FF"]}, "legend": {"title": null, "orient": "none", "legendX": 0, "legendY": -1}}
     }},
    {"data": {"values": [{"label": "p<0.01"}]},
     "mark": {"type": "text", "align": "right", "baseline": "alphabetic", "fontSize": 11, "color": "black"},
     "encoding": {"x": {"datum": 46.3, "type": "quantitative"}, "y": {"datum": 0.0004, "type": "quantitative"}, "text": {"field": "label"}}}
   ]},
  {"width": 231, "height": 106.8, "data": {"name": "rA"},
   "mark": {"type": "text", "align": "left", "baseline": "middle", "fontSize": 11, "color": "black"},
   "encoding": {
    "x": {"field": "m", "type": "quantitative", "scale": {"domain": [-0.436, 49.96], "nice": false, "zero": false}, "axis": null},
    "y": {"field": "g", "type": "nominal", "sort": null, "scale": {"type": "band", "domain": ["0","1–5","6–10","11–15","16–20","≥21"], "paddingInner": 0, "paddingOuter": 0, "align": 0}, "axis": {"domain": false, "ticks": false, "tickSize": 0, "labelAlign": "left", "labelPadding": 93, "labelFontSize": 11, "labelColor": "black", "title": "Number at risk", "titleAngle": 0, "titleAlign": "left", "titleBaseline": "middle", "titleX": -98, "titleY": -13, "titleFontSize": 11, "titleColor": "black"}},
    "text": {"field": "n", "type": "quantitative", "format": ","}
   }}
 ], "spacing": 52, "bounds": "flush", "resolve": {"scale": {"color": "independent"}, "legend": {"color": "independent"}}},
 {"vconcat": [
  {"width": 225, "height": 181,
   "title": {"text": "B. Women sound + filled + decayed teeth", "dx": -25, "offset": -15.9},
   "layer": [
    {"data": {"name": "B"},
     "transform": [{"fold": ["Teeth 0","1-5","6-10","11-15","16-20","≥21"], "as": ["group","v"]}],
     "mark": {"type": "line", "interpolate": "step-after", "strokeWidth": 1.3, "clip": false},
     "encoding": {
      "x": {"field": "m", "type": "quantitative", "scale": {"domain": [0,48], "nice": false, "zero": false}, "axis": {"values": [0,12,24,36], "offset": 7, "tickSize": 5, "labelPadding": 10, "labelFontSize": 10, "labelFlush": false, "labelColor": "#222", "title": "Observational period (month)", "titleFontSize": 9.5, "titleColor": "#333", "titlePadding": 3}},
      "y": {"field": "v", "type": "quantitative", "scale": {"domain": [0,0.08], "nice": false, "zero": false}, "axis": {"values": [0,0.02,0.04,0.06,0.08], "format": ".2f", "offset": 13, "tickSize": 6, "labelPadding": 3, "labelFontSize": 8.5, "labelColor": "#444", "title": "Cumulative probability of the incidence of fracture", "titleFontSize": 10.3, "titleColor": "#222", "titlePadding": 1}},
      "color": {"field": "group", "type": "nominal", "sort": null, "scale": {"domain": ["Teeth 0","1-5","6-10","11-15","16-20","≥21"], "range": ["#FF3030","#FFC8C8","#FFC000","#9ACD32","#33D3D3","#2020FF"]}, "legend": {"title": null, "orient": "none", "legendX": 0, "legendY": -1}}
     }},
    {"data": {"values": [{"label": "p<0.01"}]},
     "mark": {"type": "text", "align": "right", "baseline": "alphabetic", "fontSize": 11, "color": "black"},
     "encoding": {"x": {"datum": 46.3, "type": "quantitative"}, "y": {"datum": 0.0008, "type": "quantitative"}, "text": {"field": "label"}}}
   ]},
  {"width": 225, "height": 108, "data": {"name": "rB"},
   "mark": {"type": "text", "align": "left", "baseline": "middle", "fontSize": 11, "color": "black"},
   "encoding": {
    "x": {"field": "m", "type": "quantitative", "scale": {"domain": [0.436, 49.53], "nice": false, "zero": false}, "axis": null},
    "y": {"field": "g", "type": "nominal", "sort": null, "scale": {"type": "band", "domain": ["0","1–5","6–10","11–15","16–20","≥21"], "paddingInner": 0, "paddingOuter": 0, "align": 0}, "axis": {"domain": false, "ticks": false, "tickSize": 0, "labelAlign": "left", "labelPadding": 96, "labelFontSize": 11, "labelColor": "black", "title": "Number at risk", "titleAngle": 0, "titleAlign": "left", "titleBaseline": "middle", "titleX": -102, "titleY": -10, "titleFontSize": 11, "titleColor": "black"}},
    "text": {"field": "n", "type": "quantitative", "format": ","}
   }}
 ], "spacing": 58, "bounds": "flush", "resolve": {"scale": {"color": "independent"}, "legend": {"color": "independent"}}}
], "spacing": 114, "resolve": {"scale": {"color": "independent"}, "legend": {"color": "independent"}}},
{"hconcat": [
 {"vconcat": [
  {"width": 231, "height": 187,
   "title": {"text": "C. Men\u00a0\u00a0\u00a0\u00a0sound + filled teeth", "dx": -16, "offset": -8.9},
   "layer": [
    {"data": {"name": "C"},
     "transform": [{"fold": ["Teeth 0","1-5","6-10","11-15","16-20","≥21"], "as": ["group","v"]}],
     "mark": {"type": "line", "interpolate": "step-after", "strokeWidth": 1.3, "clip": false},
     "encoding": {
      "x": {"field": "m", "type": "quantitative", "scale": {"domain": [0,48], "nice": false, "zero": false}, "axis": {"values": [0,12,24,36], "offset": 7, "tickSize": 5, "labelPadding": 10.5, "labelFontSize": 10, "labelFlush": false, "labelColor": "#222", "title": "Observational period (month)", "titleFontSize": 9.5, "titleColor": "#333", "titlePadding": 4}},
      "y": {"field": "v", "type": "quantitative", "scale": {"domain": [0,0.08], "nice": false, "zero": false}, "axis": {"values": [0,0.02,0.04,0.06,0.08], "format": ".2f", "offset": 9, "tickSize": 6, "labelPadding": 8, "labelFontSize": 8.5, "labelColor": "#444", "title": "Cumulative probability of the incidence of fracture", "titleFontSize": 10.3, "titleColor": "#222", "titlePadding": 1}},
      "color": {"field": "group", "type": "nominal", "sort": null, "scale": {"domain": ["Teeth 0","1-5","6-10","11-15","16-20","≥21"], "range": ["#FF3030","#FFC8C8","#FFC000","#9ACD32","#33D3D3","#2020FF"]}, "legend": {"title": null, "orient": "none", "legendX": 0, "legendY": -1}}
     }},
    {"data": {"values": [{"label": "p<0.01"}]},
     "mark": {"type": "text", "align": "right", "baseline": "alphabetic", "fontSize": 11, "color": "black"},
     "encoding": {"x": {"datum": 46.3, "type": "quantitative"}, "y": {"datum": 0.0004, "type": "quantitative"}, "text": {"field": "label"}}}
   ]},
  {"width": 231, "height": 114.4, "data": {"name": "rC"},
   "mark": {"type": "text", "align": "left", "baseline": "middle", "fontSize": 11, "color": "black"},
   "encoding": {
    "x": {"field": "m", "type": "quantitative", "scale": {"domain": [-0.436, 49.96], "nice": false, "zero": false}, "axis": null},
    "y": {"field": "g", "type": "nominal", "sort": null, "scale": {"type": "band", "domain": ["0","1–5","6–10","11–15","16–20","≥21"], "paddingInner": 0, "paddingOuter": 0.143, "align": 0}, "axis": {"domain": false, "ticks": false, "tickSize": 0, "labelAlign": "left", "labelPadding": 93, "labelFontSize": 11, "labelColor": "black", "title": "Number at risk", "titleAngle": 0, "titleAlign": "left", "titleBaseline": "middle", "titleX": -98, "titleY": -10, "titleFontSize": 11, "titleColor": "black"}},
    "text": {"field": "n", "type": "quantitative", "format": ","}
   }}
 ], "spacing": 45, "bounds": "flush", "resolve": {"scale": {"color": "independent"}, "legend": {"color": "independent"}}},
 {"vconcat": [
  {"width": 225, "height": 181,
   "title": {"text": "D. Women sound + filled teeth", "dx": -26, "offset": -11.9},
   "layer": [
    {"data": {"name": "D"},
     "transform": [{"fold": ["Teeth 0","1-5","6-10","11-15","16-20","≥21"], "as": ["group","v"]}],
     "mark": {"type": "line", "interpolate": "step-after", "strokeWidth": 1.3, "clip": false},
     "encoding": {
      "x": {"field": "m", "type": "quantitative", "scale": {"domain": [0,48], "nice": false, "zero": false}, "axis": {"values": [0,12,24,36], "offset": 8, "tickSize": 5, "labelPadding": 10, "labelFontSize": 10, "labelFlush": false, "labelColor": "#222", "title": "Observational period (month)", "titleFontSize": 9.5, "titleColor": "#333", "titlePadding": 2}},
      "y": {"field": "v", "type": "quantitative", "scale": {"domain": [0,0.08], "nice": false, "zero": false}, "axis": {"values": [0,0.02,0.04,0.06,0.08], "format": ".2f", "offset": 8, "tickSize": 7, "labelPadding": 7, "labelFontSize": 8.5, "labelColor": "#444", "title": "Cumulative probability of the incidence of fracture", "titleFontSize": 10.3, "titleColor": "#222", "titlePadding": 1}},
      "color": {"field": "group", "type": "nominal", "sort": null, "scale": {"domain": ["Teeth 0","1-5","6-10","11-15","16-20","≥21"], "range": ["#FF3030","#FFC8C8","#FFC000","#9ACD32","#33D3D3","#2020FF"]}, "legend": {"title": null, "orient": "none", "legendX": 0, "legendY": -1}}
     }},
    {"data": {"values": [{"label": "p<0.01"}]},
     "mark": {"type": "text", "align": "right", "baseline": "alphabetic", "fontSize": 11, "color": "black"},
     "encoding": {"x": {"datum": 46.3, "type": "quantitative"}, "y": {"datum": 0.0008, "type": "quantitative"}, "text": {"field": "label"}}}
   ]},
  {"width": 225, "height": 114.4, "data": {"name": "rD"},
   "mark": {"type": "text", "align": "left", "baseline": "middle", "fontSize": 11, "color": "black"},
   "encoding": {
    "x": {"field": "m", "type": "quantitative", "scale": {"domain": [0.436, 49.53], "nice": false, "zero": false}, "axis": null},
    "y": {"field": "g", "type": "nominal", "sort": null, "scale": {"type": "band", "domain": ["0","1–5","6–10","11–15","16–20","≥21"], "paddingInner": 0, "paddingOuter": 0.178, "align": 0}, "axis": {"domain": false, "ticks": false, "tickSize": 0, "labelAlign": "left", "labelPadding": 96, "labelFontSize": 11, "labelColor": "black", "title": "Number at risk", "titleAngle": 0, "titleAlign": "left", "titleBaseline": "middle", "titleX": -102, "titleY": -10, "titleFontSize": 11, "titleColor": "black"}},
    "text": {"field": "n", "type": "quantitative", "format": ","}
   }}
 ], "spacing": 51, "bounds": "flush", "resolve": {"scale": {"color": "independent"}, "legend": {"color": "independent"}}}
], "spacing": 114, "resolve": {"scale": {"color": "independent"}, "legend": {"color": "independent"}}},
{"hconcat": [
 {"vconcat": [
  {"width": 231, "height": 185,
   "title": {"text": "E. Men\u00a0\u00a0\u00a0\u00a0sound teeth", "dx": -16, "offset": -10.9},
   "layer": [
    {"data": {"name": "E"},
     "transform": [{"fold": ["Teeth 0","1-5","6-10","11-15","16-20","≥21"], "as": ["group","v"]}],
     "mark": {"type": "line", "interpolate": "step-after", "strokeWidth": 1.3, "clip": false},
     "encoding": {
      "x": {"field": "m", "type": "quantitative", "scale": {"domain": [0,48], "nice": false, "zero": false}, "axis": {"values": [0,12,24,36], "offset": 8, "tickSize": 5, "labelPadding": 10.5, "labelFontSize": 10, "labelFlush": false, "labelColor": "#222", "title": "Observational period (month)", "titleFontSize": 9.5, "titleColor": "#333", "titlePadding": 4}},
      "y": {"field": "v", "type": "quantitative", "scale": {"domain": [0,0.08], "nice": false, "zero": false}, "axis": {"values": [0,0.02,0.04,0.06,0.08], "format": ".2f", "offset": 9, "tickSize": 6, "labelPadding": 8, "labelFontSize": 8.5, "labelColor": "#444", "title": "Cumulative probability of the incidence of fracture", "titleFontSize": 10.3, "titleColor": "#222", "titlePadding": 1}},
      "color": {"field": "group", "type": "nominal", "sort": null, "scale": {"domain": ["Teeth 0","1-5","6-10","11-15","16-20","≥21"], "range": ["#FF3030","#FFC8C8","#FFC000","#9ACD32","#33D3D3","#2020FF"]}, "legend": {"title": null, "orient": "none", "legendX": 0, "legendY": -1}}
     }},
    {"data": {"values": [{"label": "p<0.01"}]},
     "mark": {"type": "text", "align": "right", "baseline": "alphabetic", "fontSize": 11, "color": "black"},
     "encoding": {"x": {"datum": 46.3, "type": "quantitative"}, "y": {"datum": 0.0004, "type": "quantitative"}, "text": {"field": "label"}}}
   ]},
  {"width": 231, "height": 111.6, "data": {"name": "rE"},
   "mark": {"type": "text", "align": "left", "baseline": "middle", "fontSize": 11, "color": "black"},
   "encoding": {
    "x": {"field": "m", "type": "quantitative", "scale": {"domain": [-0.436, 49.96], "nice": false, "zero": false}, "axis": null},
    "y": {"field": "g", "type": "nominal", "sort": null, "scale": {"type": "band", "domain": ["0","1–5","6–10","11–15","16–20","≥21"], "paddingInner": 0, "paddingOuter": 0, "align": 0}, "axis": {"domain": false, "ticks": false, "tickSize": 0, "labelAlign": "left", "labelPadding": 93, "labelFontSize": 11, "labelColor": "black", "title": "Number at risk", "titleAngle": 0, "titleAlign": "left", "titleBaseline": "middle", "titleX": -98, "titleY": -8.6, "titleFontSize": 11, "titleColor": "black"}},
    "text": {"field": "n", "type": "quantitative", "format": ","}
   }}
 ], "spacing": 51, "bounds": "flush", "resolve": {"scale": {"color": "independent"}, "legend": {"color": "independent"}}},
 {"vconcat": [
  {"width": 225, "height": 181,
   "title": {"text": "F.Women\u00a0\u00a0\u00a0\u00a0sound teeth", "dx": -26, "offset": -9.9},
   "layer": [
    {"data": {"name": "F"},
     "transform": [{"fold": ["Teeth 0","1-5","6-10","11-15","16-20","≥21"], "as": ["group","v"]}],
     "mark": {"type": "line", "interpolate": "step-after", "strokeWidth": 1.3, "clip": false},
     "encoding": {
      "x": {"field": "m", "type": "quantitative", "scale": {"domain": [0,48], "nice": false, "zero": false}, "axis": {"values": [0,12,24,36], "offset": 8, "tickSize": 5, "labelPadding": 10, "labelFontSize": 10, "labelFlush": false, "labelColor": "#222", "title": "Observational period (month)", "titleFontSize": 9.5, "titleColor": "#333", "titlePadding": 3}},
      "y": {"field": "v", "type": "quantitative", "scale": {"domain": [0,0.08], "nice": false, "zero": false}, "axis": {"values": [0,0.02,0.04,0.06,0.08], "format": ".2f", "offset": 8, "tickSize": 7, "labelPadding": 7, "labelFontSize": 8.5, "labelColor": "#444", "title": "Cumulative probability of the incidence of fracture", "titleFontSize": 10.3, "titleColor": "#222", "titlePadding": 1}},
      "color": {"field": "group", "type": "nominal", "sort": null, "scale": {"domain": ["Teeth 0","1-5","6-10","11-15","16-20","≥21"], "range": ["#FF3030","#FFC8C8","#FFC000","#9ACD32","#33D3D3","#2020FF"]}, "legend": {"title": null, "orient": "none", "legendX": 0, "legendY": -1}}
     }},
    {"data": {"values": [{"label": "p<0.01"}]},
     "mark": {"type": "text", "align": "right", "baseline": "alphabetic", "fontSize": 11, "color": "black"},
     "encoding": {"x": {"datum": 46.3, "type": "quantitative"}, "y": {"datum": 0.0008, "type": "quantitative"}, "text": {"field": "label"}}}
   ]},
  {"width": 225, "height": 108, "data": {"name": "rF"},
   "mark": {"type": "text", "align": "left", "baseline": "middle", "fontSize": 11, "color": "black"},
   "encoding": {
    "x": {"field": "m", "type": "quantitative", "scale": {"domain": [0.436, 49.53], "nice": false, "zero": false}, "axis": null},
    "y": {"field": "g", "type": "nominal", "sort": null, "scale": {"type": "band", "domain": ["0","1–5","6–10","11–15","16–20","≥21"], "paddingInner": 0, "paddingOuter": 0, "align": 0}, "axis": {"domain": false, "ticks": false, "tickSize": 0, "labelAlign": "left", "labelPadding": 96, "labelFontSize": 11, "labelColor": "black", "title": "Number at risk", "titleAngle": 0, "titleAlign": "left", "titleBaseline": "middle", "titleX": -102, "titleY": -10.9, "titleFontSize": 11, "titleColor": "black"}},
    "text": {"field": "n", "type": "quantitative", "format": ","}
   }}
 ], "spacing": 55, "bounds": "flush", "resolve": {"scale": {"color": "independent"}, "legend": {"color": "independent"}}}
], "spacing": 114, "resolve": {"scale": {"color": "independent"}, "legend": {"color": "independent"}}}
]
}
